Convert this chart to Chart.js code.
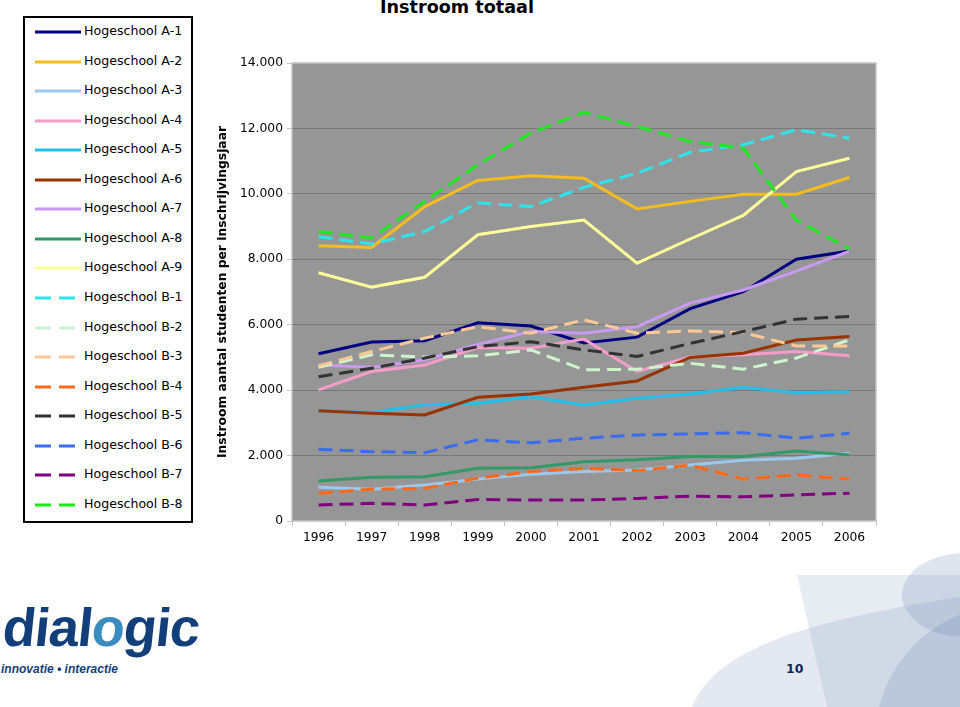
<!DOCTYPE html>
<html lang="nl">
<head>
<meta charset="utf-8">
<title>Instroom totaal</title>
<script src="https://cdn.jsdelivr.net/npm/chart.js@4"></script>
<style>
    body { margin: 0; width: 960px; height: 707px; background: #fff; position: relative; overflow: hidden; font-family: "DejaVu Sans", Verdana, sans-serif; }
    #titel { position: absolute; left: 300px; width: 314px; top: -3px; text-align: center; font-weight: bold; font-size: 17.6px; }
    #grafiek { position: absolute; left: 200px; top: 0; }
    #legenda { position: absolute; left: 23px; top: 16px; width: 166px; height: 503px; border: 2px solid #000; background: #fff; }
    .item { position: absolute; left: 0; height: 20px; font-size: 12.6px; line-height: 20px; white-space: nowrap; }
    .item svg { position: absolute; left: 10px; top: 8px; }
    .item span { position: absolute; left: 59px; top: -1px; }
    #decor { position: absolute; left: 0; top: 0; }
    #logo { position: absolute; left: 0; top: 596px; font-family: "Liberation Sans", Arial, sans-serif; font-weight: bold; font-size: 54px; color: #123f7a; letter-spacing: -1px; transform: skewX(-6deg); transform-origin: left bottom; }
    #logo b { color: #3a8cc0; }
    #slogan { position: absolute; left: 1px; top: 662px; font-family: "Liberation Sans", Arial, sans-serif; font-weight: bold; font-style: italic; font-size: 12px; color: #123f7a; }
    #pagina { position: absolute; left: 786px; top: 661px; font-weight: bold; font-size: 12.5px; color: #0b2a5a; }
</style>
</head>
<body>
<svg id="decor" width="960" height="707">
    <path d="M 692 707 C 715 650, 800 622, 960 597 L 960 707 Z" fill="rgba(120,145,185,0.2)"/>
    <path d="M 797 575 L 960 575 L 960 707 L 827 707 Z" fill="rgba(120,145,185,0.18)"/>
    <ellipse cx="965" cy="595" rx="63" ry="42" fill="rgba(110,135,180,0.22)"/>
    <circle cx="1010" cy="740" r="135" fill="rgba(110,135,180,0.22)"/>
</svg>
<div id="titel">Instroom totaal</div>
<div id="legenda"></div>
<canvas id="grafiek" width="700" height="560"></canvas>
<div id="logo">dial<b>o</b>gic</div>
<div id="slogan">innovatie • interactie</div>
<div id="pagina">10</div>
<script>
// Jaren (categorieën)
const jaren = ['1996', '1997', '1998', '1999', '2000', '2001', '2002', '2003', '2004', '2005', '2006'];

// Instroom per hogeschool
const hsA1 = [5110, 5470, 5510, 6060, 5960, 5440, 5620, 6490, 7010, 8000, 8250];
const hsA2 = [8410, 8360, 9610, 10410, 10550, 10480, 9540, 9770, 9990, 9990, 10500];
const hsA3 = [1030, 970, 1100, 1280, 1430, 1510, 1560, 1710, 1860, 1920, 2070];
const hsA4 = [4010, 4570, 4770, 5300, 5280, 5560, 4570, 5010, 5080, 5180, 5050];
const hsA5 = [3360, 3320, 3550, 3600, 3800, 3550, 3750, 3880, 4090, 3920, 3950];
const hsA6 = [3370, 3290, 3240, 3780, 3880, 4090, 4280, 5000, 5130, 5530, 5640];
const hsA7 = [4770, 4700, 4920, 5400, 5790, 5740, 5940, 6660, 7060, 7640, 8250];
const hsA8 = [1220, 1340, 1350, 1610, 1630, 1810, 1870, 1970, 1970, 2140, 2020];
const hsA9 = [7590, 7150, 7450, 8750, 9000, 9200, 7880, 8620, 9340, 10680, 11090];
const hsB1 = [8690, 8470, 8850, 9730, 9610, 10200, 10630, 11270, 11500, 11960, 11700];
const hsB2 = [4700, 5080, 5010, 5050, 5230, 4620, 4640, 4820, 4640, 4980, 5540];
const hsB3 = [4740, 5180, 5590, 5940, 5740, 6150, 5740, 5810, 5760, 5350, 5350];
const hsB4 = [850, 970, 1000, 1310, 1510, 1610, 1540, 1710, 1280, 1410, 1280];
const hsB5 = [4410, 4670, 4980, 5330, 5480, 5230, 5030, 5430, 5790, 6170, 6250];
const hsB6 = [2190, 2120, 2090, 2480, 2390, 2530, 2630, 2660, 2700, 2530, 2680];
const hsB7 = [490, 540, 490, 660, 640, 640, 690, 760, 740, 800, 850];
const hsB8 = [8850, 8650, 9770, 10890, 11860, 12490, 12060, 11600, 11400, 9200, 8310];

const namen = ['Hogeschool A-1', 'Hogeschool A-2', 'Hogeschool A-3', 'Hogeschool A-4', 'Hogeschool A-5',
    'Hogeschool A-6', 'Hogeschool A-7', 'Hogeschool A-8', 'Hogeschool A-9', 'Hogeschool B-1',
    'Hogeschool B-2', 'Hogeschool B-3', 'Hogeschool B-4', 'Hogeschool B-5', 'Hogeschool B-6',
    'Hogeschool B-7', 'Hogeschool B-8'];
const reeksen = [hsA1, hsA2, hsA3, hsA4, hsA5, hsA6, hsA7, hsA8, hsA9,
    hsB1, hsB2, hsB3, hsB4, hsB5, hsB6, hsB7, hsB8];
const kleuren = ['#000080', '#f3bd1f', '#9cc8f0', '#f59ccb', '#22bfea', '#993300', '#c89af0', '#339966', '#ffff99',
    '#2ee4ea', '#ccf5cc', '#fbc896', '#ff6a1a', '#333333', '#3b6cf0', '#800080', '#1ee81e'];

// Getal met punt als duizendtal-scheiding
function formatGetal(v) {
    return v.toString().replace(/\B(?=(\d{3})+(?!\d))/g, '.');
}

// Legenda opbouwen
const legenda = document.getElementById('legenda');
namen.forEach((naam, i) => {
    const item = document.createElement('div');
    item.className = 'item';
    item.style.top = (4 + i * 29.56) + 'px';
    const gestippeld = naam.indexOf('B-') > -1;
    const lijn = gestippeld
        ? '<line x1="0" y1="2" x2="16" y2="2"/><line x1="24" y1="2" x2="40" y2="2"/>'
        : '<line x1="0" y1="2" x2="46" y2="2"/>';
    item.innerHTML = '<svg width="46" height="4" stroke="' + kleuren[i] + '" stroke-width="3">' + lijn + '</svg><span>' + naam + '</span>';
    legenda.appendChild(item);
});

// Grijze achtergrond en rand van het plotvlak
const plotVlak = {
    id: 'plotVlak',
    beforeDraw(chart) {
        const a = chart.chartArea;
        chart.ctx.save();
        chart.ctx.fillStyle = '#969696';
        chart.ctx.fillRect(a.left, a.top, a.right - a.left, a.bottom - a.top);
        chart.ctx.restore();
    },
    beforeDatasetsDraw(chart) {
        const a = chart.chartArea;
        chart.ctx.save();
        chart.ctx.strokeStyle = '#c4c4c4';
        chart.ctx.lineWidth = 1.5;
        chart.ctx.strokeRect(a.left, a.top, a.right - a.left, a.bottom - a.top);
        chart.ctx.restore();
    }
};

const datasets = reeksen.map((data, i) => ({
    label: namen[i],
    data: data,
    borderColor: kleuren[i],
    backgroundColor: kleuren[i],
    borderWidth: 3,
    borderDash: namen[i].indexOf('B-') > -1 ? [14, 7] : [],
    pointRadius: 0,
    tension: 0,
    order: reeksen.length - i
}));

const ctx = document.getElementById('grafiek').getContext('2d');
new Chart(ctx, {
    type: 'line',
    data: { labels: jaren, datasets: datasets },
    options: {
        responsive: false,
        animation: false,
        layout: { padding: { top: 63, right: 24, left: 0, bottom: 0 } },
        plugins: {
            legend: { display: false },
            tooltip: { enabled: false }
        },
        scales: {
            x: {
                offset: true,
                border: { display: false },
                grid: { offset: true, drawOnChartArea: false, drawTicks: true, tickLength: 5, color: '#c4c4c4' },
                ticks: { color: '#000', padding: 4, font: { family: 'DejaVu Sans', size: 12.3 }, maxRotation: 0 },
                afterFit(scale) { scale.height = 39; }
            },
            y: {
                min: 0,
                max: 14000,
                border: { display: false },
                grid: {
                    color: ctx => (ctx.tick && (ctx.tick.value === 0 || ctx.tick.value === 14000)) ? 'rgba(0,0,0,0)' : '#787878',
                    tickColor: '#c4c4c4',
                    tickLength: 5
                },
                ticks: {
                    stepSize: 2000,
                    color: '#000',
                    padding: 4,
                    font: { family: 'DejaVu Sans', size: 12.3 },
                    callback: v => formatGetal(v)
                },
                title: {
                    display: true,
                    text: 'Instroom aantal studenten per inschrijvingsjaar',
                    color: '#000',
                    font: { family: 'DejaVu Sans', size: 12.3, weight: 'bold' },
                    padding: { top: 15, bottom: 0 }
                },
                afterFit(scale) { scale.width = 92; }
            }
        }
    },
    plugins: [plotVlak]
});
</script>
</body>
</html>
